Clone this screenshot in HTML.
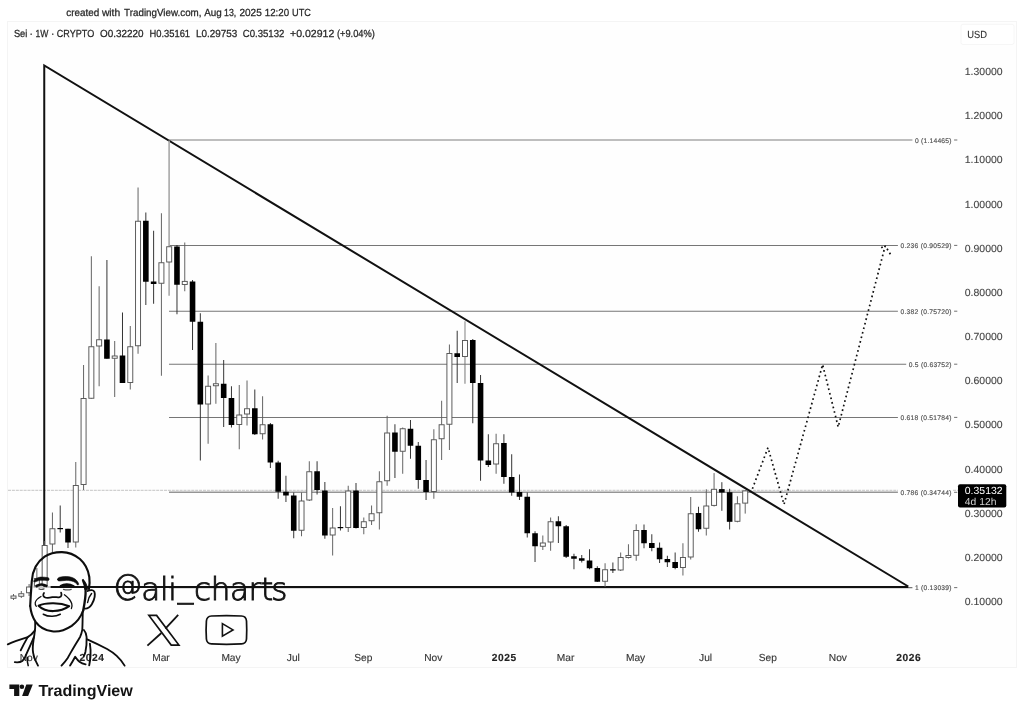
<!DOCTYPE html>
<html lang="en"><head><meta charset="utf-8"><title>Sei 1W chart - TradingView</title>
<style>
html,body{margin:0;padding:0;background:#fff;}
body{width:1024px;height:714px;overflow:hidden;font-family:"Liberation Sans",sans-serif;}
svg{display:block;}
text{font-family:"Liberation Sans",sans-serif;text-rendering:geometricPrecision;}
.ax{font-size:10.3px;fill:#444;stroke:#444;stroke-width:0.12px;}
.tm{font-size:10.2px;fill:#383838;stroke:#383838;stroke-width:0.15px;text-anchor:middle;}
.fib{font-size:6.7px;fill:#4c4c4c;stroke:#4c4c4c;stroke-width:0.14px;}
.lg{font-size:10.3px;fill:#262626;stroke:#262626;stroke-width:0.25px;}
</style></head><body>
<svg width="1024" height="714" viewBox="0 0 1024 714">
<rect width="1024" height="714" fill="#fff"/>
<rect x="7.5" y="21.5" width="1009" height="646" fill="#fefefe" stroke="#f4f4f4" stroke-width="1"/>
<text class="lg" y="15.8"><tspan x="66.2" textLength="33.0" lengthAdjust="spacingAndGlyphs">created</tspan> <tspan x="101.9" textLength="18.3" lengthAdjust="spacingAndGlyphs">with</tspan> <tspan x="124.1" textLength="77.4" lengthAdjust="spacingAndGlyphs">TradingView.com,</tspan> <tspan x="204.2" textLength="17.6" lengthAdjust="spacingAndGlyphs">Aug</tspan> <tspan x="224.0" textLength="12.2" lengthAdjust="spacingAndGlyphs">13,</tspan> <tspan x="239.4" textLength="22.4" lengthAdjust="spacingAndGlyphs">2025</tspan> <tspan x="264.8" textLength="24.3" lengthAdjust="spacingAndGlyphs">12:20</tspan> <tspan x="292.1" textLength="18.9" lengthAdjust="spacingAndGlyphs">UTC</tspan></text>
<text class="lg" y="36.8"><tspan x="13.9" textLength="13.5" lengthAdjust="spacingAndGlyphs">Sei</tspan> <tspan x="29.6" textLength="3.4" lengthAdjust="spacingAndGlyphs">·</tspan> <tspan x="35.4" textLength="12.9" lengthAdjust="spacingAndGlyphs">1W</tspan> <tspan x="51.0" textLength="3.4" lengthAdjust="spacingAndGlyphs">·</tspan> <tspan x="56.8" textLength="37.4" lengthAdjust="spacingAndGlyphs">CRYPTO</tspan> <tspan x="100.0" textLength="43.5" lengthAdjust="spacingAndGlyphs">O0.32220</tspan> <tspan x="149.4" textLength="40.7" lengthAdjust="spacingAndGlyphs">H0.35161</tspan> <tspan x="195.9" textLength="41.3" lengthAdjust="spacingAndGlyphs">L0.29753</tspan> <tspan x="242.7" textLength="41.7" lengthAdjust="spacingAndGlyphs">C0.35132</tspan> <tspan x="290.0" textLength="44.3" lengthAdjust="spacingAndGlyphs">+0.02912</tspan> <tspan x="336.9" textLength="38.0" lengthAdjust="spacingAndGlyphs">(+9.04%)</tspan></text>
<rect x="961" y="24.3" width="53" height="20.2" rx="2" fill="#fff" stroke="#f6f6f6" stroke-width="1"/>
<text class="ax" x="967.3" y="37.6" style="fill:#2e2e2e" textLength="19.8" lengthAdjust="spacingAndGlyphs">USD</text>
<text class="ax" x="964.8" y="605.25" textLength="37.8" lengthAdjust="spacingAndGlyphs">0.10000</text>
<text class="ax" x="964.8" y="561.06" textLength="37.8" lengthAdjust="spacingAndGlyphs">0.20000</text>
<text class="ax" x="964.8" y="516.87" textLength="37.8" lengthAdjust="spacingAndGlyphs">0.30000</text>
<text class="ax" x="964.8" y="472.68" textLength="37.8" lengthAdjust="spacingAndGlyphs">0.40000</text>
<text class="ax" x="964.8" y="428.49" textLength="37.8" lengthAdjust="spacingAndGlyphs">0.50000</text>
<text class="ax" x="964.8" y="384.30" textLength="37.8" lengthAdjust="spacingAndGlyphs">0.60000</text>
<text class="ax" x="964.8" y="340.11" textLength="37.8" lengthAdjust="spacingAndGlyphs">0.70000</text>
<text class="ax" x="964.8" y="295.92" textLength="37.8" lengthAdjust="spacingAndGlyphs">0.80000</text>
<text class="ax" x="964.8" y="251.73" textLength="37.8" lengthAdjust="spacingAndGlyphs">0.90000</text>
<text class="ax" x="964.8" y="207.54" textLength="37.8" lengthAdjust="spacingAndGlyphs">1.00000</text>
<text class="ax" x="964.8" y="163.35" textLength="37.8" lengthAdjust="spacingAndGlyphs">1.10000</text>
<text class="ax" x="964.8" y="119.16" textLength="37.8" lengthAdjust="spacingAndGlyphs">1.20000</text>
<text class="ax" x="964.8" y="74.97" textLength="37.8" lengthAdjust="spacingAndGlyphs">1.30000</text>
<text class="tm" x="28.8" y="660.6">Nov</text>
<text class="tm" x="91.6" y="660.6" style="font-weight:bold;fill:#222;stroke:#222" textLength="24.4" lengthAdjust="spacing">2024</text>
<text class="tm" x="161.0" y="660.6">Mar</text>
<text class="tm" x="231.0" y="660.6">May</text>
<text class="tm" x="293.3" y="660.6">Jul</text>
<text class="tm" x="363.3" y="660.6">Sep</text>
<text class="tm" x="433.3" y="660.6">Nov</text>
<text class="tm" x="503.9" y="660.6" style="font-weight:bold;fill:#222;stroke:#222" textLength="24.4" lengthAdjust="spacing">2025</text>
<text class="tm" x="565.6" y="660.6">Mar</text>
<text class="tm" x="635.6" y="660.6">May</text>
<text class="tm" x="705.6" y="660.6">Jul</text>
<text class="tm" x="767.9" y="660.6">Sep</text>
<text class="tm" x="837.9" y="660.6">Nov</text>
<text class="tm" x="908.5" y="660.6" style="font-weight:bold;fill:#222;stroke:#222" textLength="24.4" lengthAdjust="spacing">2026</text>
<path d="M8 490.3 H898 M953 490.3 H958" fill="none" stroke="#ababab" stroke-width="0.7" stroke-dasharray="3 0.9"/>
<line x1="169" x2="912.4" y1="140.00" y2="140.00" stroke="#a8a8a8" stroke-width="1.5"/>
<line x1="954.1" x2="957.3" y1="140.00" y2="140.00" stroke="#767676" stroke-width="1.05"/>
<text class="fib" x="915" y="142.50" textLength="36.5" lengthAdjust="spacing">0 (1.14465)</text>
<line x1="169" x2="897.9" y1="245.40" y2="245.40" stroke="#767676" stroke-width="1.05"/>
<line x1="954.1" x2="957.3" y1="245.40" y2="245.40" stroke="#767676" stroke-width="1.05"/>
<text class="fib" x="900.5" y="247.90" textLength="51.0" lengthAdjust="spacing">0.236 (0.90529)</text>
<line x1="169" x2="897.9" y1="311.20" y2="311.20" stroke="#767676" stroke-width="1.05"/>
<line x1="954.1" x2="957.3" y1="311.20" y2="311.20" stroke="#767676" stroke-width="1.05"/>
<text class="fib" x="900.5" y="313.70" textLength="51.0" lengthAdjust="spacing">0.382 (0.75720)</text>
<line x1="169" x2="906.2" y1="364.20" y2="364.20" stroke="#767676" stroke-width="1.05"/>
<line x1="954.1" x2="957.3" y1="364.20" y2="364.20" stroke="#767676" stroke-width="1.05"/>
<text class="fib" x="908.8" y="366.70" textLength="42.7" lengthAdjust="spacing">0.5 (0.63752)</text>
<line x1="169" x2="897.9" y1="417.40" y2="417.40" stroke="#767676" stroke-width="1.05"/>
<line x1="954.1" x2="957.3" y1="417.40" y2="417.40" stroke="#767676" stroke-width="1.05"/>
<text class="fib" x="900.5" y="419.90" textLength="51.0" lengthAdjust="spacing">0.618 (0.51784)</text>
<line x1="169" x2="897.9" y1="492.30" y2="492.30" stroke="#959595" stroke-width="1.4"/>
<line x1="954.1" x2="957.3" y1="492.30" y2="492.30" stroke="#767676" stroke-width="1.05"/>
<text class="fib" x="900.5" y="494.80" textLength="51.0" lengthAdjust="spacing">0.786 (0.34744)</text>
<line x1="169" x2="912.4" y1="587.60" y2="587.60" stroke="#767676" stroke-width="1.05"/>
<line x1="954.1" x2="957.3" y1="587.60" y2="587.60" stroke="#767676" stroke-width="1.05"/>
<text class="fib" x="915" y="590.10" textLength="36.5" lengthAdjust="spacing">1 (0.13039)</text>
<path d="M44.25 587 L44.25 65.5 L908.3 586.5 M50.5 587 L908.3 587" fill="none" stroke="#111" stroke-width="2" stroke-linejoin="miter" stroke-linecap="butt"/>
<line x1="33.5" x2="50.5" y1="587" y2="587" stroke="#777" stroke-width="0.8"/>
<line x1="13.51" x2="13.51" y1="594" y2="600" stroke="#5c5c5c" stroke-width="0.95"/>
<rect x="11.01" y="596.0" width="5.0" height="2.25" fill="#fff" stroke="#555" stroke-width="0.95"/>
<line x1="21.29" x2="21.29" y1="591" y2="598" stroke="#5c5c5c" stroke-width="0.95"/>
<rect x="18.79" y="593.75" width="5.0" height="2.50" fill="#fff" stroke="#555" stroke-width="0.95"/>
<line x1="29.08" x2="29.08" y1="584" y2="596" stroke="#5c5c5c" stroke-width="0.95"/>
<rect x="26.58" y="587.0" width="5.0" height="5.75" fill="#fff" stroke="#555" stroke-width="0.95"/>
<line x1="36.86" x2="36.86" y1="568" y2="588" stroke="#5c5c5c" stroke-width="0.95"/>
<rect x="34.36" y="578.5" width="5.0" height="7.50" fill="#fff" stroke="#555" stroke-width="0.95"/>
<line x1="44.65" x2="44.65" y1="541" y2="586" stroke="#5c5c5c" stroke-width="0.95"/>
<rect x="42.15" y="545.5" width="5.0" height="40.00" fill="#fff" stroke="#555" stroke-width="0.95"/>
<line x1="52.43" x2="52.43" y1="512.5" y2="552.5" stroke="#5c5c5c" stroke-width="0.95"/>
<rect x="49.93" y="528.75" width="5.0" height="15.25" fill="#fff" stroke="#555" stroke-width="0.95"/>
<line x1="60.21" x2="60.21" y1="505.5" y2="532.5" stroke="#2a2a2a" stroke-width="0.95"/>
<rect x="57.41" y="528" width="5.6" height="1.20" fill="#000"/>
<line x1="68.00" x2="68.00" y1="528.75" y2="548" stroke="#2a2a2a" stroke-width="0.95"/>
<rect x="65.20" y="528.75" width="5.6" height="13.75" fill="#000"/>
<line x1="75.78" x2="75.78" y1="462" y2="547.5" stroke="#5c5c5c" stroke-width="0.95"/>
<rect x="73.28" y="485.5" width="5.0" height="56.50" fill="#fff" stroke="#555" stroke-width="0.95"/>
<line x1="83.57" x2="83.57" y1="365" y2="490" stroke="#5c5c5c" stroke-width="0.95"/>
<rect x="81.07" y="398.5" width="5.0" height="86.00" fill="#fff" stroke="#555" stroke-width="0.95"/>
<line x1="91.35" x2="91.35" y1="256.25" y2="398.75" stroke="#5c5c5c" stroke-width="0.95"/>
<rect x="88.85" y="346.75" width="5.0" height="51.50" fill="#fff" stroke="#555" stroke-width="0.95"/>
<line x1="99.13" x2="99.13" y1="286.25" y2="386.25" stroke="#5c5c5c" stroke-width="0.95"/>
<rect x="96.63" y="339.75" width="5.0" height="6.25" fill="#fff" stroke="#555" stroke-width="0.95"/>
<line x1="106.92" x2="106.92" y1="260" y2="358.75" stroke="#2a2a2a" stroke-width="0.95"/>
<rect x="104.12" y="339.5" width="5.6" height="19.25" fill="#000"/>
<line x1="114.70" x2="114.70" y1="341" y2="397" stroke="#5c5c5c" stroke-width="0.95"/>
<rect x="112.20" y="356.0" width="5.0" height="2.25" fill="#fff" stroke="#555" stroke-width="0.95"/>
<line x1="122.49" x2="122.49" y1="312.5" y2="383" stroke="#2a2a2a" stroke-width="0.95"/>
<rect x="119.69" y="355.5" width="5.6" height="27.50" fill="#000"/>
<line x1="130.27" x2="130.27" y1="326" y2="389.5" stroke="#5c5c5c" stroke-width="0.95"/>
<rect x="127.77" y="346.75" width="5.0" height="35.75" fill="#fff" stroke="#555" stroke-width="0.95"/>
<line x1="138.05" x2="138.05" y1="187.5" y2="353.75" stroke="#5c5c5c" stroke-width="0.95"/>
<rect x="135.55" y="221.25" width="5.0" height="124.50" fill="#fff" stroke="#555" stroke-width="0.95"/>
<line x1="145.84" x2="145.84" y1="212.5" y2="305" stroke="#2a2a2a" stroke-width="0.95"/>
<rect x="143.04" y="220.75" width="5.6" height="61.00" fill="#000"/>
<line x1="153.62" x2="153.62" y1="230.75" y2="303.75" stroke="#2a2a2a" stroke-width="0.95"/>
<rect x="150.82" y="281.5" width="5.6" height="2.50" fill="#000"/>
<line x1="161.41" x2="161.41" y1="213.25" y2="375.75" stroke="#5c5c5c" stroke-width="0.95"/>
<rect x="158.91" y="262.75" width="5.0" height="20.50" fill="#fff" stroke="#555" stroke-width="0.95"/>
<line x1="169.1" x2="169.1" y1="140.5" y2="295.75" stroke="#a8a8a8" stroke-width="1.6"/>
<rect x="166.69" y="246.75" width="5.0" height="15.25" fill="#fff" stroke="#555" stroke-width="0.95"/>
<line x1="176.97" x2="176.97" y1="245" y2="314.25" stroke="#2a2a2a" stroke-width="0.95"/>
<rect x="174.17" y="246.5" width="5.6" height="38.25" fill="#000"/>
<line x1="184.76" x2="184.76" y1="242.5" y2="291.25" stroke="#5c5c5c" stroke-width="0.95"/>
<rect x="182.26" y="281.4" width="5.0" height="3.10" fill="#fff" stroke="#555" stroke-width="0.95"/>
<line x1="192.54" x2="192.54" y1="280" y2="350" stroke="#2a2a2a" stroke-width="0.95"/>
<rect x="189.74" y="281.5" width="5.6" height="40.25" fill="#000"/>
<line x1="200.33" x2="200.33" y1="313.25" y2="460.5" stroke="#2a2a2a" stroke-width="0.95"/>
<rect x="197.53" y="321.75" width="5.6" height="82.75" fill="#000"/>
<line x1="208.11" x2="208.11" y1="375.5" y2="443.75" stroke="#5c5c5c" stroke-width="0.95"/>
<rect x="205.61" y="386.25" width="5.0" height="17.75" fill="#fff" stroke="#555" stroke-width="0.95"/>
<line x1="215.89" x2="215.89" y1="343" y2="403.75" stroke="#5c5c5c" stroke-width="0.95"/>
<rect x="213.39" y="383.75" width="5.0" height="2.00" fill="#fff" stroke="#555" stroke-width="0.95"/>
<line x1="223.68" x2="223.68" y1="360" y2="427" stroke="#2a2a2a" stroke-width="0.95"/>
<rect x="220.88" y="383.75" width="5.6" height="14.25" fill="#000"/>
<line x1="231.46" x2="231.46" y1="386.25" y2="427.5" stroke="#2a2a2a" stroke-width="0.95"/>
<rect x="228.66" y="398" width="5.6" height="27.00" fill="#000"/>
<line x1="239.25" x2="239.25" y1="385" y2="449.25" stroke="#5c5c5c" stroke-width="0.95"/>
<rect x="236.75" y="415.0" width="5.0" height="9.50" fill="#fff" stroke="#555" stroke-width="0.95"/>
<line x1="247.03" x2="247.03" y1="380.5" y2="425.5" stroke="#5c5c5c" stroke-width="0.95"/>
<rect x="244.53" y="408.75" width="5.0" height="5.25" fill="#fff" stroke="#555" stroke-width="0.95"/>
<line x1="254.81" x2="254.81" y1="389.5" y2="435" stroke="#2a2a2a" stroke-width="0.95"/>
<rect x="252.01" y="408.25" width="5.6" height="26.00" fill="#000"/>
<line x1="262.60" x2="262.60" y1="396.25" y2="439.5" stroke="#5c5c5c" stroke-width="0.95"/>
<rect x="260.10" y="424.75" width="5.0" height="9.00" fill="#fff" stroke="#555" stroke-width="0.95"/>
<line x1="270.38" x2="270.38" y1="423" y2="468" stroke="#2a2a2a" stroke-width="0.95"/>
<rect x="267.58" y="424.25" width="5.6" height="38.25" fill="#000"/>
<line x1="278.17" x2="278.17" y1="460.75" y2="498.75" stroke="#2a2a2a" stroke-width="0.95"/>
<rect x="275.37" y="462.5" width="5.6" height="29.25" fill="#000"/>
<line x1="285.95" x2="285.95" y1="475.75" y2="502" stroke="#2a2a2a" stroke-width="0.95"/>
<rect x="283.15" y="491.75" width="5.6" height="3.75" fill="#000"/>
<line x1="293.73" x2="293.73" y1="492.5" y2="538.25" stroke="#2a2a2a" stroke-width="0.95"/>
<rect x="290.93" y="495.5" width="5.6" height="35.25" fill="#000"/>
<line x1="301.52" x2="301.52" y1="492.5" y2="536.25" stroke="#5c5c5c" stroke-width="0.95"/>
<rect x="299.02" y="501.0" width="5.0" height="29.25" fill="#fff" stroke="#555" stroke-width="0.95"/>
<line x1="309.30" x2="309.30" y1="461.25" y2="501" stroke="#5c5c5c" stroke-width="0.95"/>
<rect x="306.80" y="471.75" width="5.0" height="28.25" fill="#fff" stroke="#555" stroke-width="0.95"/>
<line x1="317.09" x2="317.09" y1="461.25" y2="494.5" stroke="#2a2a2a" stroke-width="0.95"/>
<rect x="314.29" y="471.25" width="5.6" height="18.75" fill="#000"/>
<line x1="324.87" x2="324.87" y1="482" y2="538.75" stroke="#2a2a2a" stroke-width="0.95"/>
<rect x="322.07" y="490.5" width="5.6" height="45.00" fill="#000"/>
<line x1="332.65" x2="332.65" y1="508" y2="555.5" stroke="#5c5c5c" stroke-width="0.95"/>
<rect x="330.15" y="528.0" width="5.0" height="7.00" fill="#fff" stroke="#555" stroke-width="0.95"/>
<line x1="340.44" x2="340.44" y1="506.25" y2="530.5" stroke="#2a2a2a" stroke-width="0.95"/>
<rect x="337.64" y="527" width="5.6" height="1.20" fill="#000"/>
<line x1="348.22" x2="348.22" y1="485.75" y2="532" stroke="#5c5c5c" stroke-width="0.95"/>
<rect x="345.72" y="491.0" width="5.0" height="36.50" fill="#fff" stroke="#555" stroke-width="0.95"/>
<line x1="356.01" x2="356.01" y1="483" y2="528.5" stroke="#2a2a2a" stroke-width="0.95"/>
<rect x="353.21" y="490.5" width="5.6" height="37.50" fill="#000"/>
<line x1="363.79" x2="363.79" y1="517.5" y2="534.25" stroke="#5c5c5c" stroke-width="0.95"/>
<rect x="361.29" y="521.75" width="5.0" height="5.75" fill="#fff" stroke="#555" stroke-width="0.95"/>
<line x1="371.57" x2="371.57" y1="505.5" y2="525" stroke="#5c5c5c" stroke-width="0.95"/>
<rect x="369.07" y="513.75" width="5.0" height="7.00" fill="#fff" stroke="#555" stroke-width="0.95"/>
<line x1="379.36" x2="379.36" y1="471.25" y2="529.5" stroke="#5c5c5c" stroke-width="0.95"/>
<rect x="376.86" y="481.75" width="5.0" height="31.00" fill="#fff" stroke="#555" stroke-width="0.95"/>
<line x1="387.14" x2="387.14" y1="415.75" y2="485.75" stroke="#5c5c5c" stroke-width="0.95"/>
<rect x="384.64" y="433.0" width="5.0" height="47.75" fill="#fff" stroke="#555" stroke-width="0.95"/>
<line x1="394.93" x2="394.93" y1="424.25" y2="478" stroke="#2a2a2a" stroke-width="0.95"/>
<rect x="392.13" y="432.5" width="5.6" height="19.25" fill="#000"/>
<line x1="402.71" x2="402.71" y1="427.5" y2="473.75" stroke="#5c5c5c" stroke-width="0.95"/>
<rect x="400.21" y="428.75" width="5.0" height="22.50" fill="#fff" stroke="#555" stroke-width="0.95"/>
<line x1="410.49" x2="410.49" y1="420" y2="458.75" stroke="#2a2a2a" stroke-width="0.95"/>
<rect x="407.69" y="428.75" width="5.6" height="17.00" fill="#000"/>
<line x1="418.28" x2="418.28" y1="442" y2="488.75" stroke="#2a2a2a" stroke-width="0.95"/>
<rect x="415.48" y="445.75" width="5.6" height="34.25" fill="#000"/>
<line x1="426.06" x2="426.06" y1="460" y2="500" stroke="#2a2a2a" stroke-width="0.95"/>
<rect x="423.26" y="480" width="5.6" height="12.00" fill="#000"/>
<line x1="433.85" x2="433.85" y1="429.25" y2="498.75" stroke="#5c5c5c" stroke-width="0.95"/>
<rect x="431.35" y="439.75" width="5.0" height="51.75" fill="#fff" stroke="#555" stroke-width="0.95"/>
<line x1="441.63" x2="441.63" y1="400.75" y2="460" stroke="#5c5c5c" stroke-width="0.95"/>
<rect x="439.13" y="424.75" width="5.0" height="14.00" fill="#fff" stroke="#555" stroke-width="0.95"/>
<line x1="449.41" x2="449.41" y1="344.5" y2="450" stroke="#5c5c5c" stroke-width="0.95"/>
<rect x="446.91" y="353.5" width="5.0" height="70.75" fill="#fff" stroke="#555" stroke-width="0.95"/>
<line x1="457.20" x2="457.20" y1="330.75" y2="383" stroke="#2a2a2a" stroke-width="0.95"/>
<rect x="454.40" y="353.25" width="5.6" height="3.75" fill="#000"/>
<line x1="464.98" x2="464.98" y1="321.25" y2="340" stroke="#b0b0b0" stroke-width="1.6"/>
<line x1="464.98" x2="464.98" y1="357" y2="383.75" stroke="#777" stroke-width="1"/>
<rect x="462.48" y="340.5" width="5.0" height="16.00" fill="#fff" stroke="#555" stroke-width="0.95"/>
<line x1="472.77" x2="472.77" y1="339" y2="423.25" stroke="#2a2a2a" stroke-width="0.95"/>
<rect x="469.97" y="340" width="5.6" height="43.00" fill="#000"/>
<line x1="480.55" x2="480.55" y1="375" y2="480.75" stroke="#2a2a2a" stroke-width="0.95"/>
<rect x="477.75" y="383" width="5.6" height="77.50" fill="#000"/>
<line x1="488.33" x2="488.33" y1="434.25" y2="467" stroke="#2a2a2a" stroke-width="0.95"/>
<rect x="485.53" y="460.5" width="5.6" height="4.50" fill="#000"/>
<line x1="496.12" x2="496.12" y1="433.75" y2="473.75" stroke="#5c5c5c" stroke-width="0.95"/>
<rect x="493.62" y="443.75" width="5.0" height="20.25" fill="#fff" stroke="#555" stroke-width="0.95"/>
<line x1="503.90" x2="503.90" y1="434.25" y2="483.75" stroke="#2a2a2a" stroke-width="0.95"/>
<rect x="501.10" y="443" width="5.6" height="34.00" fill="#000"/>
<line x1="511.69" x2="511.69" y1="454.25" y2="495.75" stroke="#2a2a2a" stroke-width="0.95"/>
<rect x="508.89" y="477" width="5.6" height="15.50" fill="#000"/>
<line x1="519.47" x2="519.47" y1="474.5" y2="500" stroke="#2a2a2a" stroke-width="0.95"/>
<rect x="516.67" y="492" width="5.6" height="4.75" fill="#000"/>
<line x1="527.25" x2="527.25" y1="492.5" y2="537.5" stroke="#2a2a2a" stroke-width="0.95"/>
<rect x="524.45" y="496.75" width="5.6" height="36.50" fill="#000"/>
<line x1="535.04" x2="535.04" y1="531.25" y2="562" stroke="#2a2a2a" stroke-width="0.95"/>
<rect x="532.24" y="533.25" width="5.6" height="13.00" fill="#000"/>
<line x1="542.82" x2="542.82" y1="535.5" y2="550" stroke="#5c5c5c" stroke-width="0.95"/>
<rect x="540.32" y="543.0" width="5.0" height="3.25" fill="#fff" stroke="#555" stroke-width="0.95"/>
<line x1="550.61" x2="550.61" y1="517.5" y2="550.75" stroke="#5c5c5c" stroke-width="0.95"/>
<rect x="548.11" y="521.75" width="5.0" height="20.25" fill="#fff" stroke="#555" stroke-width="0.95"/>
<line x1="558.39" x2="558.39" y1="516.25" y2="543" stroke="#2a2a2a" stroke-width="0.95"/>
<rect x="555.59" y="521.25" width="5.6" height="5.00" fill="#000"/>
<line x1="566.17" x2="566.17" y1="525" y2="558" stroke="#2a2a2a" stroke-width="0.95"/>
<rect x="563.37" y="526.25" width="5.6" height="30.50" fill="#000"/>
<line x1="573.96" x2="573.96" y1="553.75" y2="569.25" stroke="#2a2a2a" stroke-width="0.95"/>
<rect x="571.16" y="556.25" width="5.6" height="2.50" fill="#000"/>
<line x1="581.74" x2="581.74" y1="555" y2="562.5" stroke="#2a2a2a" stroke-width="0.95"/>
<rect x="578.94" y="558.25" width="5.6" height="2.50" fill="#000"/>
<line x1="589.53" x2="589.53" y1="549.25" y2="569.25" stroke="#2a2a2a" stroke-width="0.95"/>
<rect x="586.73" y="560.5" width="5.6" height="7.75" fill="#000"/>
<line x1="597.31" x2="597.31" y1="566.25" y2="582" stroke="#2a2a2a" stroke-width="0.95"/>
<rect x="594.51" y="568" width="5.6" height="13.75" fill="#000"/>
<line x1="605.09" x2="605.09" y1="563.25" y2="587" stroke="#5c5c5c" stroke-width="0.95"/>
<rect x="602.59" y="569.75" width="5.0" height="11.50" fill="#fff" stroke="#555" stroke-width="0.95"/>
<line x1="612.88" x2="612.88" y1="562.5" y2="573" stroke="#2a2a2a" stroke-width="0.95"/>
<rect x="610.08" y="569.25" width="5.6" height="1.25" fill="#000"/>
<line x1="620.66" x2="620.66" y1="552.5" y2="571" stroke="#5c5c5c" stroke-width="0.95"/>
<rect x="618.16" y="557.5" width="5.0" height="12.50" fill="#fff" stroke="#555" stroke-width="0.95"/>
<line x1="628.45" x2="628.45" y1="544.25" y2="558.5" stroke="#5c5c5c" stroke-width="0.95"/>
<rect x="625.95" y="555.5" width="5.0" height="2.00" fill="#fff" stroke="#555" stroke-width="0.95"/>
<line x1="636.23" x2="636.23" y1="524.25" y2="560.75" stroke="#5c5c5c" stroke-width="0.95"/>
<rect x="633.73" y="530.5" width="5.0" height="24.75" fill="#fff" stroke="#555" stroke-width="0.95"/>
<line x1="644.01" x2="644.01" y1="524.5" y2="548.25" stroke="#2a2a2a" stroke-width="0.95"/>
<rect x="641.21" y="530" width="5.6" height="13.25" fill="#000"/>
<line x1="651.80" x2="651.80" y1="534.25" y2="551.25" stroke="#2a2a2a" stroke-width="0.95"/>
<rect x="649.00" y="543" width="5.6" height="5.00" fill="#000"/>
<line x1="659.58" x2="659.58" y1="542.5" y2="563" stroke="#2a2a2a" stroke-width="0.95"/>
<rect x="656.78" y="547.75" width="5.6" height="11.50" fill="#000"/>
<line x1="667.37" x2="667.37" y1="555.75" y2="567" stroke="#2a2a2a" stroke-width="0.95"/>
<rect x="664.57" y="559" width="5.6" height="3.25" fill="#000"/>
<line x1="675.15" x2="675.15" y1="552.5" y2="569.25" stroke="#2a2a2a" stroke-width="0.95"/>
<rect x="672.35" y="562" width="5.6" height="6.00" fill="#000"/>
<line x1="682.93" x2="682.93" y1="543.25" y2="575.5" stroke="#5c5c5c" stroke-width="0.95"/>
<rect x="680.43" y="557.5" width="5.0" height="10.00" fill="#fff" stroke="#555" stroke-width="0.95"/>
<line x1="690.72" x2="690.72" y1="497" y2="559.5" stroke="#5c5c5c" stroke-width="0.95"/>
<rect x="688.22" y="513.75" width="5.0" height="43.25" fill="#fff" stroke="#555" stroke-width="0.95"/>
<line x1="698.50" x2="698.50" y1="506.75" y2="531.75" stroke="#2a2a2a" stroke-width="0.95"/>
<rect x="695.70" y="513" width="5.6" height="16.25" fill="#000"/>
<line x1="706.29" x2="706.29" y1="489.25" y2="535.5" stroke="#5c5c5c" stroke-width="0.95"/>
<rect x="703.79" y="506.0" width="5.0" height="22.25" fill="#fff" stroke="#555" stroke-width="0.95"/>
<line x1="714.07" x2="714.07" y1="473.1" y2="506.5" stroke="#5c5c5c" stroke-width="0.95"/>
<rect x="711.57" y="489.3" width="5.0" height="16.10" fill="#fff" stroke="#555" stroke-width="0.95"/>
<line x1="721.85" x2="721.85" y1="482.2" y2="510.8" stroke="#2a2a2a" stroke-width="0.95"/>
<rect x="719.05" y="489.1" width="5.6" height="3.40" fill="#000"/>
<line x1="729.64" x2="729.64" y1="488.8" y2="529.5" stroke="#2a2a2a" stroke-width="0.95"/>
<rect x="726.84" y="492.2" width="5.6" height="29.60" fill="#000"/>
<line x1="737.42" x2="737.42" y1="496.3" y2="522.3" stroke="#5c5c5c" stroke-width="0.95"/>
<rect x="734.92" y="503.8" width="5.0" height="17.50" fill="#fff" stroke="#555" stroke-width="0.95"/>
<line x1="745.21" x2="745.21" y1="490.1" y2="513.6" stroke="#5c5c5c" stroke-width="0.95"/>
<rect x="742.71" y="490.9" width="5.0" height="12.20" fill="#fff" stroke="#555" stroke-width="0.95"/>
<path d="M752.4 488.8 L768 447.6 L784 504.4 L822.6 364.6 L838.2 427 L885.2 245.8" fill="none" stroke="#111" stroke-width="1.7" stroke-dasharray="1.7 3" stroke-linejoin="round"/>
<path d="M890.4 254.2 L885.2 245.8 M881.2 247.7 L885.2 245.8" fill="none" stroke="#111" stroke-width="1.7" stroke-dasharray="1.7 3"/>
<rect x="958" y="484.3" width="48.3" height="23.2" rx="2" fill="#000"/>
<text x="964.8" y="494.3" font-size="10.3" fill="#fff" textLength="37.8" lengthAdjust="spacingAndGlyphs">0.35132</text>
<text x="964.8" y="504.7" font-size="10.2" fill="#d0d0d0" textLength="31.6" lengthAdjust="spacingAndGlyphs">4d 12h</text>
<g fill="none" stroke="#0d0d0d" stroke-width="1.85" stroke-linecap="round" stroke-linejoin="round">
<!-- head outline -->
<path stroke-width="2.15" d="M30.2 606 C30.6 598 31.2 588 31.8 581 C32.4 571 36 562.5 44.6 556.6 C50 553 56 552 62 552.1 C68 552.2 75 555 79.9 559 C85 563.5 88.3 570 89.3 577 C89.9 581.5 89.6 585 88.9 589"/>
<!-- jaw -->
<path stroke-width="2.15" d="M30.2 606 C30.8 612 33 618 35.6 621.8 C39 626.5 45 630.3 52.1 631.3 C59 632.2 66 629.5 71.7 625.8 C77 622 81 616.5 83.2 610.5"/>
<!-- ear -->
<path d="M87.6 591 C90.5 589.6 93.5 589.8 94.4 591.8 C95.4 594.5 94.2 600 91.8 604.3 C90 607.3 87 608.8 84.6 608.6"/>
<path stroke-width="1.45" d="M91.6 593.6 C89.5 596 88.2 599 87.6 602.5"/>
<!-- sideburn -->
<path stroke-width="2.3" d="M83 580.4 C84.3 583.5 85.3 586.5 85.6 590 C85.9 597 84.5 604 83.2 610.5"/>
<path fill="#0d0d0d" stroke-width="0.8" d="M83.3 579.8 C84.4 582.6 84.9 585.6 84.8 589.4 L87.6 589.6 C87.4 585.6 86 582.4 83.3 579.8 Z"/>
<!-- eyebrows -->
<path fill="#0d0d0d" stroke-width="0.6" d="M34 581 C34.5 579.6 35.2 578.9 36.2 578.4 C37.6 577.6 39.2 577.2 40.7 577.1 C43 577 45.6 577.2 47.7 577.6 C48.8 577.9 49.3 578.6 49.1 579.4 C48.9 580.2 48.4 580.6 47.6 580.6 C45.4 580.3 43 580.1 40.7 580.3 C39.3 580.4 38 580.8 36.8 581.3 C35.8 581.8 35 582.1 34.4 582 C34 581.8 33.9 581.4 34 581 Z"/>
<path fill="#0d0d0d" stroke-width="0.6" d="M57.5 579.4 C57.5 578.4 58.3 577.8 59.5 577.3 C61.8 576.6 64.2 576.4 66.6 576.5 C68.6 576.6 70.5 576.9 72.1 577.5 C73.7 578.1 75 578.8 76 579.8 C77.3 581 78.2 582.3 78.7 583.8 C78.9 584.5 78.5 585 77.8 585 C77.4 585 77.2 584.7 77 584.4 C76.5 583.6 76 583 75.2 582.5 C74 581.7 72.7 581.2 71.3 580.9 C69.5 580.5 67.6 580.3 65.8 580.4 C63.7 580.5 61.6 580.8 59.5 581 C58.3 581 57.5 580.4 57.5 579.4 Z"/>
<!-- eyes -->
<path stroke-width="2.55" d="M36.6 585.8 C39.5 584.2 43.5 584.2 46.4 585.8"/>
<path stroke-width="2.75" d="M61 586.2 C64 584.2 69.5 584.2 73.4 586.4"/>
<path stroke-width="1.25" stroke="#555" d="M39 588.9 C40.8 589.6 42.6 589.6 44 588.9"/>
<path stroke-width="1.25" stroke="#555" d="M63.5 589.3 C66 590 69 590 71.2 589.3"/>
<!-- nose -->
<path stroke-width="1.75" d="M44 593 C42.8 594.8 43 596.4 44.6 597.2 C46.5 598.2 49 598 52.3 597.2 C55 596.6 57.5 597.8 59.5 597.2 C61.6 596.5 61.9 594.6 61.1 592.6"/>
<!-- smile lines -->
<path stroke-width="1.25" d="M41 596.5 C37.8 598.3 35.6 600.6 35.2 602.8 C35 604.5 35.6 605.5 36.3 606.3"/>
<path stroke-width="1.3" d="M64.4 594.8 C67.5 597 70.5 600 71.7 603.5 C72.3 605.5 72 607.3 71.4 608.6"/>
<!-- mouth -->
<path stroke-width="2.05" fill="#fff" d="M38.6 605.7 C43 603.6 48 603.2 53.5 603.3 C59 603.4 64.5 604.3 69.2 606.2 C65 609.2 59.5 611 53.5 611.1 C47.5 611.2 42 609.2 38.6 605.7 Z"/>
<path stroke-width="1.55" d="M43.3 614.2 C46.5 616 49 616.4 52.2 616.3 C55.5 616.2 58 615.4 60.3 614.2"/>
<!-- neck -->
<path d="M35.2 622 C35.4 626 35.2 630 34.4 634.5 C33.5 639.5 32.6 645 32.8 650 C33 656 35.5 661 38 665.6"/>
<path d="M82.8 611 C82.6 617 82.6 624 82.3 629.7 C81.8 632.5 81 635 80.2 636.7 C78 640.5 76 643.6 74 646.9 C71.8 650.5 69.8 654.5 67.7 657.9 C65.8 660.8 63.6 663.3 61.5 665.6"/>
<!-- left shoulder / collar -->
<path d="M7.8 644.3 C14 641.5 21 639.2 27.7 637.1 C30.5 635.4 33 633 34.8 630.6"/>
<path d="M27.7 637.1 C25.2 641.5 22.8 646 20.7 650.4"/>
<path d="M33.7 637.6 C31 644 28 650.5 25.4 656.4 C24.3 658.5 23.4 660 22.3 661 C20.5 662.3 17.5 662.5 14.8 662.2"/>
<path stroke-width="1.55" d="M27.4 657.6 C27.2 660.4 27.5 663 28.2 665.6"/>
<!-- right collar -->
<path d="M70.1 665.6 C71.9 662.6 73.6 659.6 75.2 656.7 C76.5 658.6 77.8 660.5 79.5 661.8 C81.3 663.2 83.4 664 85.6 664.4"/>
<path d="M83.9 630 C85.6 632 86.5 634 86.6 637 C86.8 642 86.4 647.5 85.4 652 C84.9 654 84.3 655.3 83.7 656"/>
<path d="M89.9 643.6 C90.6 648 90.7 652.5 90.5 656 C90.3 659.5 89.8 662.5 89.2 665.4"/>
<path d="M87.2 639.4 C93.5 642.2 100.5 645.6 107.1 649 C111 651.2 114.3 653.6 116.7 655.9 C119.8 658.8 122.5 662 124.6 665.6"/>
</g>

<text transform="scale(0.985 1)" x="114.72 143.35 162.34 170.83 180.45 197.03 213.88 233.45 252.39 264.86 275.47" y="595.15 599.7 599.8 599.8 597.1 599.7 599.8 599.7 599.8 599.8 599.7" font-size="31.5" fill="#111" stroke="#111" stroke-width="0.9" style="font-family:'DejaVu Sans','Liberation Sans',sans-serif;font-weight:200"><tspan font-size="29.5" stroke-width="0.8">@</tspan>ali_charts</text>
<g fill="none" stroke="#111" stroke-linejoin="miter"><path d="M148.9 615.4 L156.6 615.4 L178.9 645.1 L171.2 645.1 Z" stroke-width="1.7"/><path d="M178.2 614.8 L165.4 628.6" stroke-width="1.8"/><path d="M161.4 633 L147.4 645.6" stroke-width="1.8"/></g>
<path d="M211.5 616 C221 615.5 232 615.5 241.5 616 C244.6 616.2 246.3 618 246.5 621 C246.8 626.5 246.8 633.5 246.5 639 C246.3 642 244.6 643.7 241.5 643.9 C232 644.4 221 644.4 211.5 643.9 C208.4 643.7 206.6 642 206.4 639 C206 633.5 206 626.5 206.4 621 C206.6 618 208.4 616.2 211.5 616 Z" fill="none" stroke="#111" stroke-width="1.7"/>
<path d="M222.4 623.6 L233 629.9 L222.4 636.2 Z" fill="none" stroke="#111" stroke-width="1.6" stroke-linejoin="miter"/>
<g fill="#131313"><path d="M9.4 684.4 H19.3 V695.9 H14.1 V689.1 H9.4 Z"/><circle cx="21.9" cy="686.7" r="2.3"/><path d="M26.3 684.4 H32.8 L28.1 695.9 H22.1 Z"/></g>
<text x="38.4" y="695.9" font-size="16" font-weight="bold" fill="#131313" textLength="94.4" lengthAdjust="spacingAndGlyphs">TradingView</text>
</svg>
</body></html>
